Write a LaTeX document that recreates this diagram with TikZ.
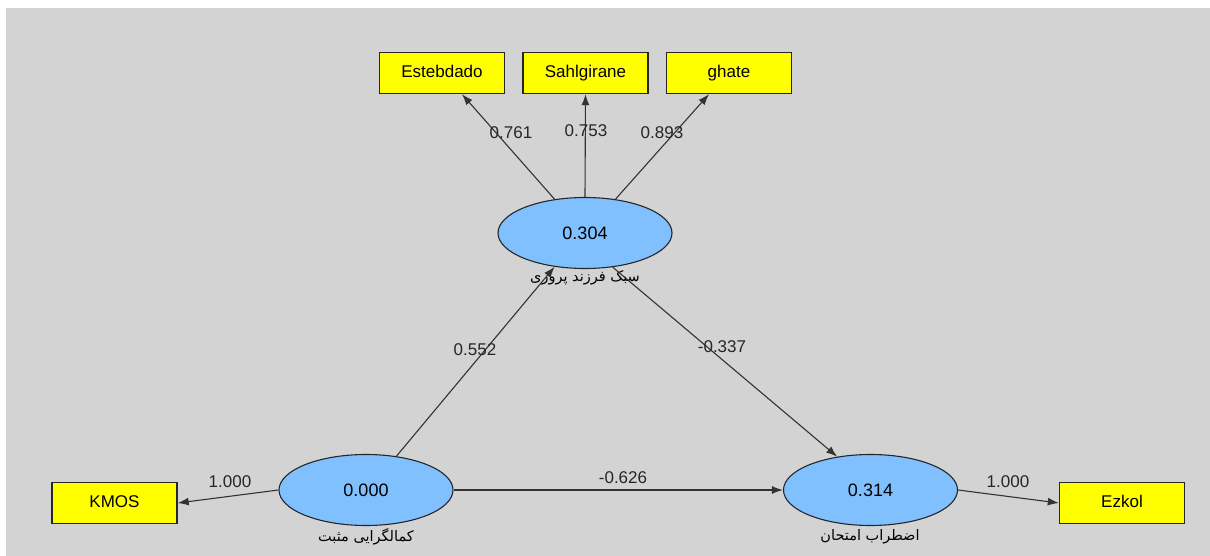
\documentclass[tikz,border=0pt]{standalone}
\usepackage{fontspec}
\setmainfont{Liberation Sans}
\newfontfamily\arabicfont[Script=Arabic]{DejaVu Sans}
\TeXXeTstate=1
\usetikzlibrary{shapes.geometric,arrows.meta}
\definecolor{panel}{RGB}{211,211,211}
\definecolor{latent}{RGB}{128,192,255}
\definecolor{indic}{RGB}{255,255,0}
\tikzset{
  x=1pt, y=-1pt,
  indicator/.style={draw=black!85, line width=1.4pt, fill=indic, minimum width=125pt,
    minimum height=41pt, inner sep=0pt, text height=13pt, text depth=4pt,
    font=\fontsize{17}{20}\selectfont},
  construct/.style={ellipse, draw=black!85, line width=1.1pt, fill=latent, minimum width=174pt,
    minimum height=71pt, inner sep=0pt, font=\fontsize{18}{20}\selectfont},
  path/.style={draw=black!80, line width=1.1pt, -{Latex[length=11pt,width=8pt]}},
  coef/.style={font=\fontsize{17}{20}\selectfont, text=black!85, inner sep=1pt},
  cname/.style={font=\arabicfont\fontsize{14.5}{16}\selectfont, inner sep=0pt}
}
\begin{document}
\begin{tikzpicture}
\useasboundingbox (0,0) rectangle (1210,556);
\fill[white] (0,0) rectangle (1210,556);
\fill[panel] (6,8) rectangle (1210,556);

% indicators
\node[indicator] (est) at (442,73) {Estebdado};
\node[indicator] (sah) at (585.5,73) {Sahlgirane};
\node[indicator] (gha) at (729,73) {ghate};
\node[indicator] (kmos) at (114.5,503) {KMOS};
\node[indicator] (ezk) at (1122,503) {Ezkol};

% constructs
\node[construct] (sty) at (585,233) {0.304};
\node[construct] (per) at (366,490) {0.000};
\node[construct] (anx) at (870.5,490) {0.314};

\node[cname] at (585,278) {\beginR سبک فرزند پروری\endR};
\node[cname] at (366,537) {\beginR کمالگرایی مثبت\endR};
\node[cname] at (870,537) {\beginR اضطراب امتحان\endR};

% outer loadings
\draw[path] (sty.132) -- (est.south -| 462,0);
\draw[path] (sty.north) -- (sah.south);
\draw[path] (sty.48) -- (gha.south -| 709,0);
\draw[path] (per.west) -- (kmos.east);
\draw[path] (anx.east) -- (ezk.west);

% structural paths
\draw[path] (per.48) -- (sty.-132);
\draw[path] (sty.-51) -- (anx.135);
\draw[path] (per.east) -- (anx.west);

% coefficients
\node[coef] at (511,133) {0.761};
\node[coef] at (586,131) {0.753};
\node[coef] at (662,133) {0.893};
\node[coef] at (475,350) {0.552};
\node[coef] at (722,347) {-0.337};
\node[coef] at (623,478) {-0.626};
\node[coef] at (230,482) {1.000};
\node[coef] at (1008,482) {1.000};
\end{tikzpicture}
\end{document}
